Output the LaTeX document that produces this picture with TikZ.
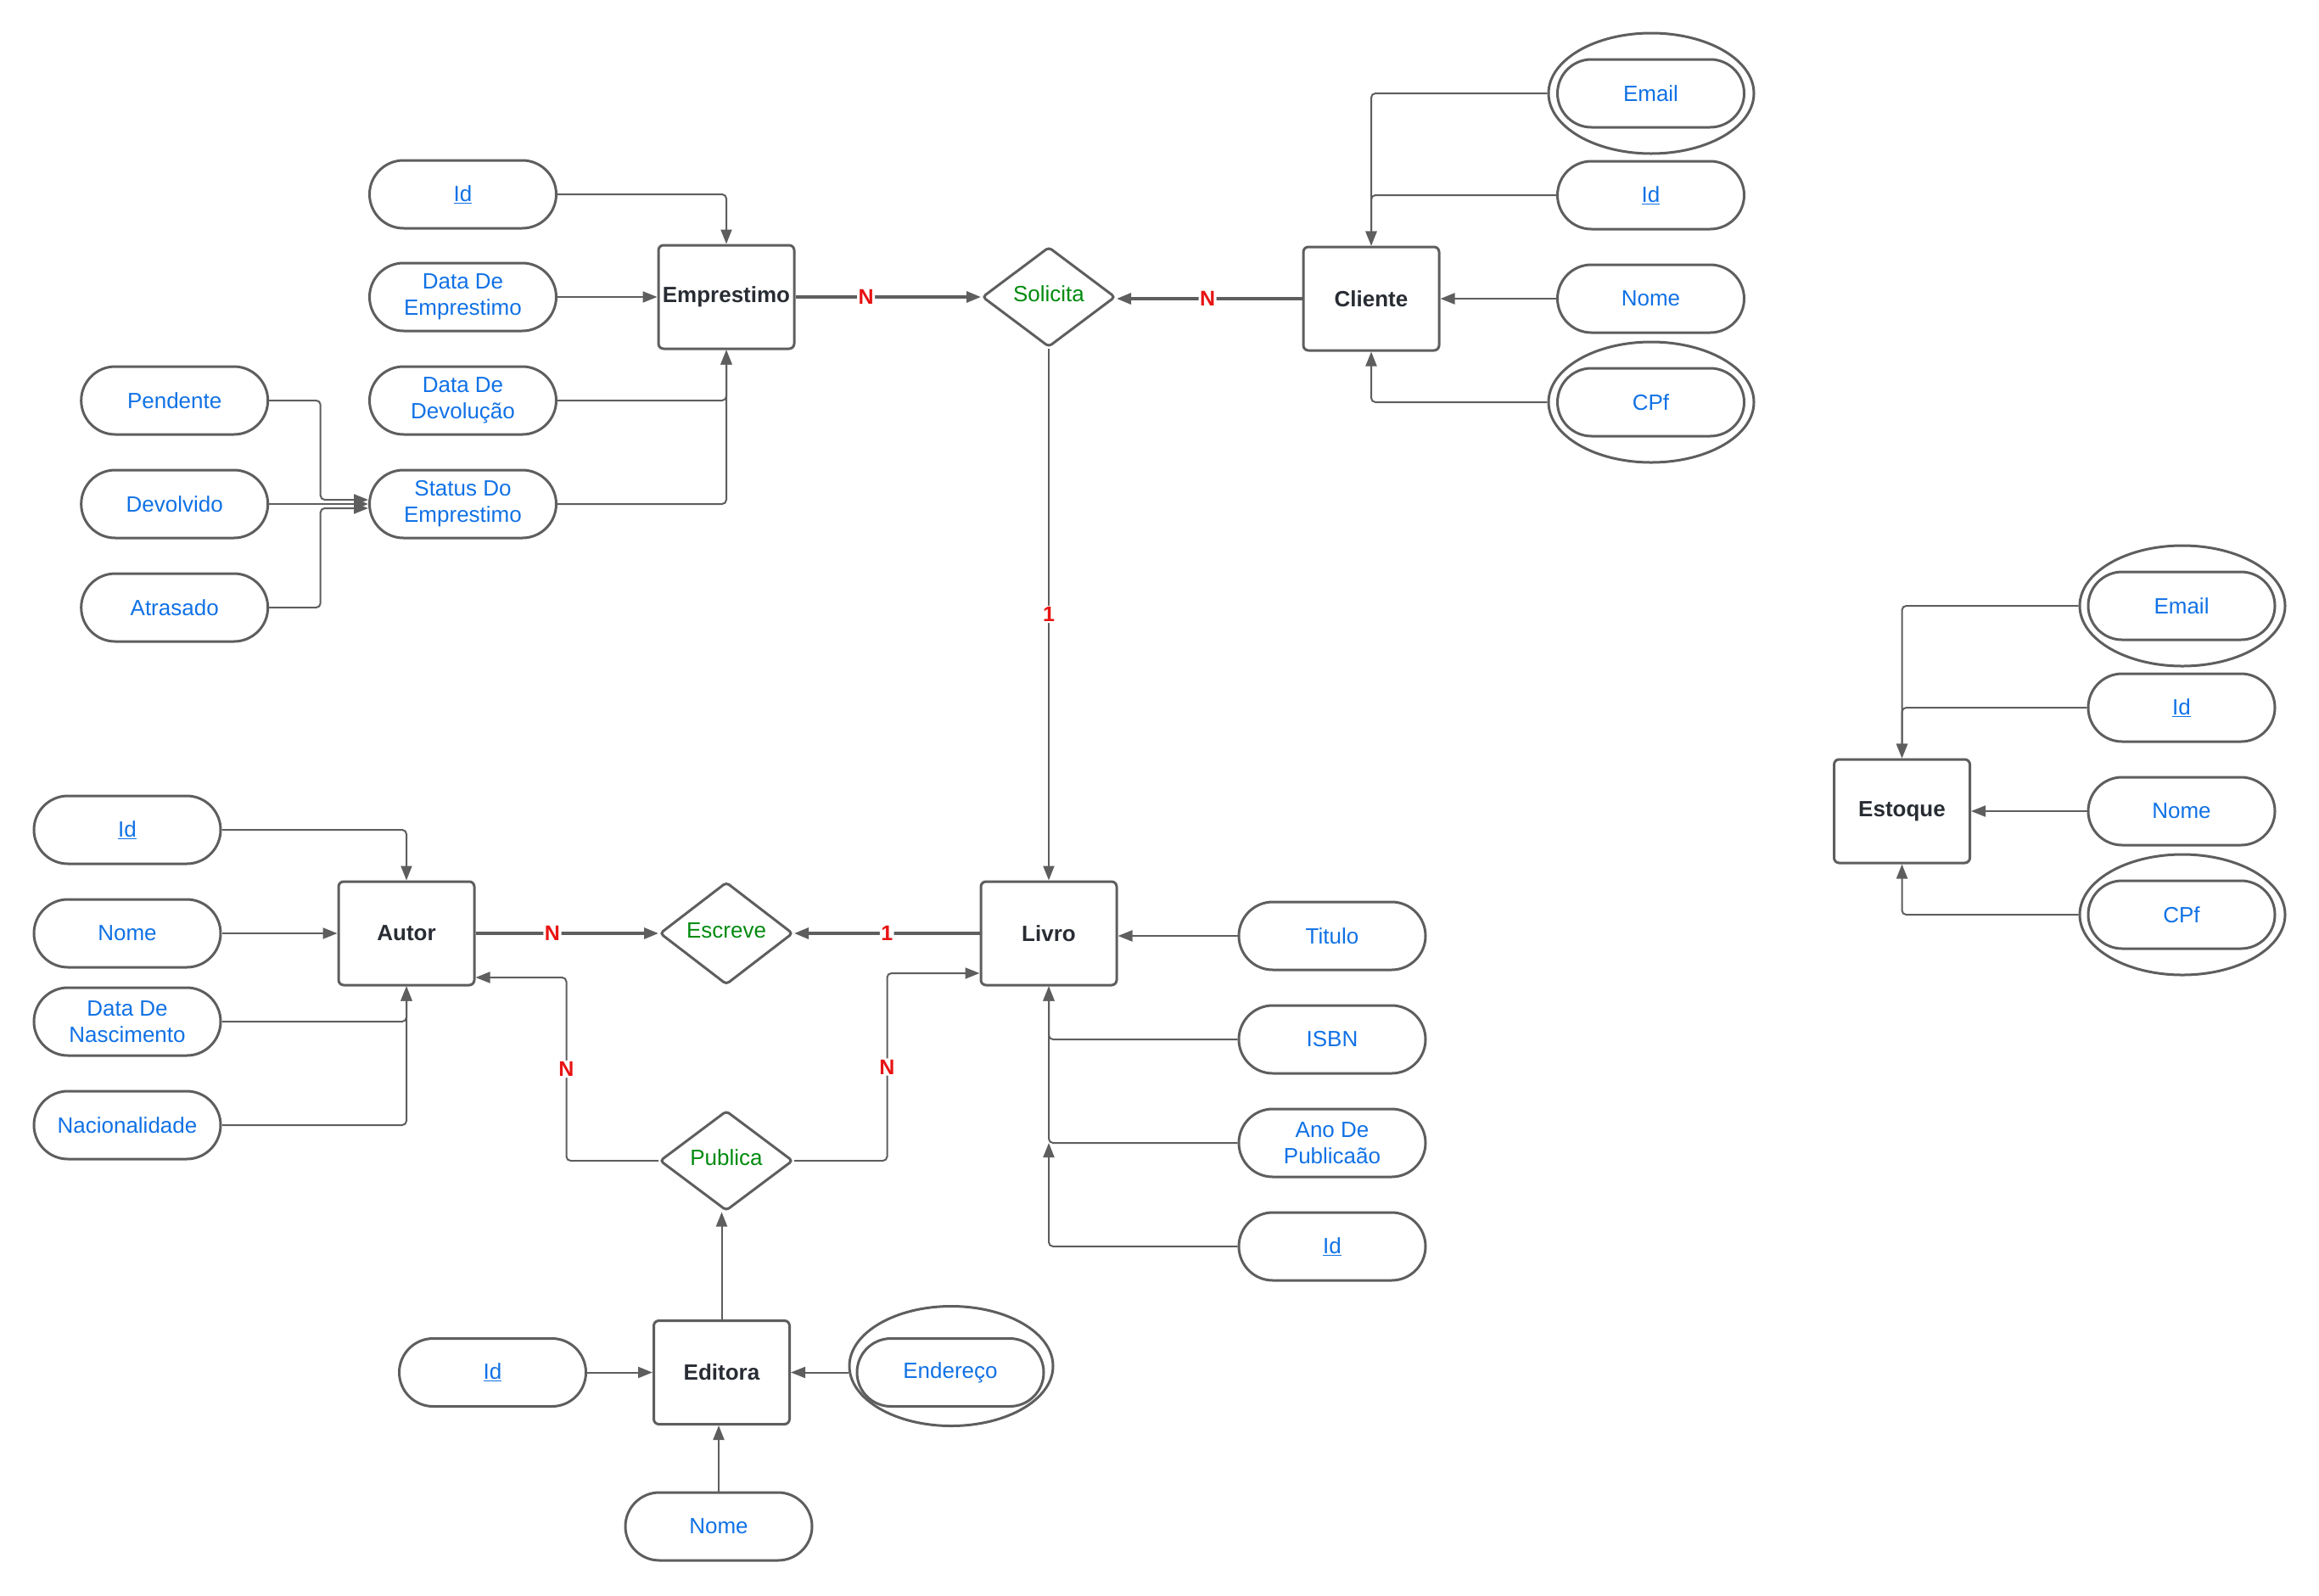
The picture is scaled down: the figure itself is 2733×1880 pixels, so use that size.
\documentclass[tikz,border=0pt]{standalone}
\usepackage{fontspec}
\setmainfont{Liberation Sans}
\usetikzlibrary{shapes.geometric, arrows.meta, calc}
\definecolor{lc}{HTML}{5E5E5E}
\definecolor{blu}{HTML}{1071E5}
\definecolor{grn}{HTML}{008A0E}
\definecolor{crd}{HTML}{E81313}
\definecolor{txt}{HTML}{282C33}

\begin{document}
\begin{tikzpicture}[x=1pt, y=-1pt,
  entity/.style={draw=lc, line width=3pt, rounded corners=6pt,
    minimum width=160pt, minimum height=122pt, inner sep=0pt,
    text=txt, font=\fontsize{26}{31}\selectfont\bfseries},
  attr/.style={draw=lc, line width=3pt, rounded corners=40pt,
    minimum width=220pt, minimum height=80pt, inner sep=0pt,
    text=blu, align=center, font=\fontsize{26}{31}\selectfont},
  multi/.style={draw=lc, line width=3pt, ellipse,
    minimum width=242pt, minimum height=142pt, inner sep=0pt},
  rel/.style={draw=lc, line width=3pt, diamond, rounded corners=4pt,
    minimum width=157pt, minimum height=118pt, inner sep=0pt,
    text height=19pt, text depth=8pt,
    text=grn, font=\fontsize{26}{31}\selectfont},
  conn/.style={draw=lc, line width=2pt, rounded corners=5pt,
    -{Triangle[length=17pt,width=13pt]}},
  heavy/.style={conn, line width=3.2pt},
  card/.style={fill=white, text=crd, inner sep=1.5pt,
    font=\fontsize{25}{30}\selectfont\bfseries}
]
\useasboundingbox (0,0) rectangle (2733,1880);

% ---------- Emprestimo ----------
\node[entity] (emp) at (856,350) {Emprestimo};
\node[attr] (empId)  at (545.5,229) {\underline{Id}};
\node[attr] (empDtE) at (545.5,350) {Data De\\Emprestimo};
\node[attr] (empDtD) at (545.5,472) {Data De\\Devolução};
\node[attr] (empSt)  at (545.5,594) {Status Do\\Emprestimo};
\node[attr] (stPend) at (205.7,472) {Pendente};
\node[attr] (stDev)  at (205.7,594) {Devolvido};
\node[attr] (stAtr)  at (205.7,716) {Atrasado};

% ---------- Solicita / Cliente ----------
\node[rel] (sol) at (1236,350) {Solicita};
\node[entity] (cli) at (1616,352) {Cliente};
\node[multi] (cliEmailO) at (1946,110) {};
\node[attr] (cliEmail) at (1945.5,110) {Email};
\node[attr] (cliId)    at (1945.5,230) {\underline{Id}};
\node[attr] (cliNome)  at (1945.5,352) {Nome};
\node[multi] (cliCpfO) at (1946,474) {};
\node[attr] (cliCpf)   at (1945.5,474) {CPf};

% ---------- Estoque ----------
\node[entity] (est) at (2241.5,956) {Estoque};
\node[multi] (estEmailO) at (2572,714) {};
\node[attr] (estEmail) at (2571,714) {Email};
\node[attr] (estId)    at (2571,834) {\underline{Id}};
\node[attr] (estNome)  at (2571,956) {Nome};
\node[multi] (estCpfO) at (2572,1078) {};
\node[attr] (estCpf)   at (2571,1078) {CPf};

% ---------- Autor ----------
\node[entity] (aut) at (479,1100) {Autor};
\node[attr] (autId)   at (150,978)  {\underline{Id}};
\node[attr] (autNome) at (150,1100) {Nome};
\node[attr] (autNasc) at (150,1204) {Data De\\Nascimento};
\node[attr] (autNac)  at (150,1326) {Nacionalidade};

% ---------- Escreve / Publica ----------
\node[rel] (esc) at (856,1100) {Escreve};
\node[rel] (pub) at (856,1368) {Publica};

% ---------- Livro ----------
\node[entity] (liv) at (1236,1100) {Livro};
\node[attr] (livTit)  at (1570,1103) {Titulo};
\node[attr] (livIsbn) at (1570,1225) {ISBN};
\node[attr] (livAno)  at (1570,1347) {Ano De\\Publicaão};
\node[attr] (livId)   at (1570,1469) {\underline{Id}};

% ---------- Editora ----------
\node[entity] (edi) at (850.5,1617.5) {Editora};
\node[attr] (edId) at (580.5,1617.5) {\underline{Id}};
\node[multi, minimum width=240pt, minimum height=141pt] (edEndO) at (1121,1610) {};
\node[attr] (edEnd) at (1120,1617.5) {Endereço};
\node[attr] (edNome) at (847,1799) {Nome};

% ---------- attribute links ----------
\draw[conn] (empId.east) -| (emp.north);
\draw[conn] (empDtE.east) -- (emp.west);
\draw[conn] (empDtD.east) -| (emp.south);
\draw[conn] (empSt.east) -| (emp.south);
\draw[conn] (stPend.east) -- ++(60.5,0) |- ($(empSt.west)+(0,-5)$);
\draw[conn] (stDev.east) -- (empSt.west);
\draw[conn] (stAtr.east) -- ++(60.5,0) |- ($(empSt.west)+(0,5)$);

\draw[conn] (cliEmailO.west) -| (cli.north);
\draw[conn] (cliId.west) -| (cli.north);
\draw[conn] (cliNome.west) -- (cliNome.west -| cli.east);
\draw[conn] (cliCpfO.west) -| (cli.south);

\draw[conn] (estEmailO.west) -| (est.north);
\draw[conn] (estId.west) -| (est.north);
\draw[conn] (estNome.west) -- (estNome.west -| est.east);
\draw[conn] (estCpfO.west) -| (est.south);

\draw[conn] (autId.east) -| (aut.north);
\draw[conn] (autNome.east) -- (aut.west);
\draw[conn] (autNasc.east) -| (aut.south);
\draw[conn] (autNac.east) -| (aut.south);

\draw[conn] (livTit.west) -- (livTit.west -| liv.east);
\draw[conn] (livIsbn.west) -| (liv.south);
\draw[conn] (livAno.west) -| (liv.south);
\draw[conn] (livId.west) -| (livAno.west -| liv.south);

\draw[conn] (edId.east) -- (edi.west);
\draw[conn] (edEnd.west -| edEndO.west) -- (edEnd.west -| edi.east);
\draw[conn] (edNome.north) -- (edNome.north |- edi.south);

% ---------- relationship links ----------
\draw[heavy] (emp.east) -- node[card, pos=0.38] (cEmpSol) {N} (sol.west);
\draw[heavy] (cli.west) -- node[card, pos=0.51] (cCliSol) {N} (cli.west -| sol.east);
\draw[conn] (sol.south) -- node[card] (cSolLiv) {1} (liv.north);
\draw[heavy] (aut.east) -- node[card, pos=0.42] (cAutEsc) {N} (esc.west);
\draw[heavy] (liv.west) -- node[card] (cLivEsc) {1} (esc.east);
\draw[conn] (pub.west) -- ++(-108.5,0) -- node[card] (cPubAut) {N} ++(0,-216) -- ($(aut.east)+(0,52)$);
\draw[conn] (pub.east) -- ++(109.5,0) -- node[card] (cPubLiv) {N} ++(0,-221) -- ($(liv.west)+(0,47)$);
\draw[conn] (edi.north) -- (edi.north |- pub.south);
\end{tikzpicture}
\end{document}
